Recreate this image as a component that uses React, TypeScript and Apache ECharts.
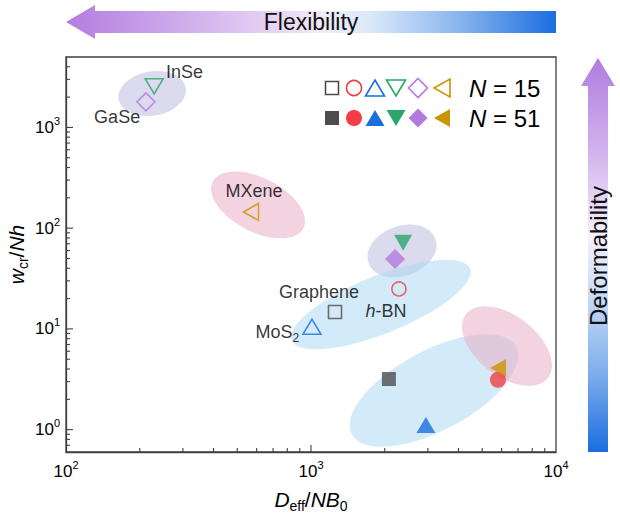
import React, { useEffect, useRef } from 'react';
import * as echarts from 'echarts';

// ---------- data ----------
const materials = ['Graphene', 'h-BN', 'MoS2', 'InSe', 'GaSe', 'MXene'];
const materialLabels = ['Graphene', '{i|h}-BN', 'MoS{sub|2}', 'InSe', 'GaSe', 'MXene'];
// N = 15 (hollow)
const n15X = [1253, 2285, 1009, 229, 212, 569];
const n15Y = [14.7, 24.9, 10.5, 2560, 1795, 145];
// N = 51 (filled)
const n51X = [2080, 5794, 2944, 2377, 2203, 5800];
const n51Y = [3.18, 3.12, 1.11, 71.5, 49.5, 4.1];
const legendTexts = ['15', '51'];

// shaded groups: ends of the major axis (data coords) + minor/major ratio
const ellipseStartX = [164, 397, 1718, 836, 1469, 4293];
const ellipseStartY = [1900, 289, 44.9, 7.67, 0.9, 14.06];
const ellipseEndX = [308, 931, 3220, 4457, 6870, 9270];
const ellipseEndY = [2480, 100, 78.5, 39.8, 6.64, 3.25];
const ellipseRatio = [0.65, 0.53, 0.7, 0.3, 0.43, 0.58];

const X_MIN = 100;
const X_MAX = 10000;
const Y_MIN = 0.6;
const Y_MAX = 5000;
const xMajorTicks = [100, 1000, 10000];
const yMajorTicks = [1, 10, 100, 1000];
const xMinorTicks: number[] = [];
[100, 1000].forEach((d) => { for (let k = 2; k <= 9; k++) xMinorTicks.push(k * d); });
const yMinorTicks: number[] = [0.7, 0.8, 0.9];
[1, 10, 100].forEach((d) => { for (let k = 2; k <= 9; k++) yMinorTicks.push(k * d); });
[2000, 3000, 4000].forEach((v) => yMinorTicks.push(v));

// ---------- styles ----------
const FONT = "'Liberation Sans', Arial, Helvetica, sans-serif";
const colors = ['#4d4d4d', '#f23e44', '#1a6fdc', '#2aa56b', '#b07ae0', '#cc9400'];
const ellipseColors = [
  'rgba(185,183,222,0.5)',
  'rgba(234,168,193,0.5)',
  'rgba(185,183,222,0.5)',
  'rgba(168,214,241,0.5)',
  'rgba(168,214,241,0.5)',
  'rgba(234,168,193,0.5)',
];
const symbolKinds = ['rect', 'circle', 'triangle', 'triangle', 'diamond', 'triangle'];
const symbolRot = [0, 0, 0, 180, 0, 90];
const hollowSizes: any[] = [13, 14, [18, 15], [18, 15], [18, 18], [17, 15]];
const filledSizes: any[] = [14, 16, [19, 16], [18, 16], [20, 20], [18, 16]];
const labelPos = ['top', 'bottom', 'left', 'right', 'left', 'top'];
const labelOffset = [[-16, 4], [-13, -3], [2, 5], [-3, -14], [9, 15], [3, 5]];
const AX = '#404040';
const MINOR_LEN = 4;
const MAJOR_LEN = 7;

const labelRich = {
  i: { fontStyle: 'italic', fontSize: 18, fontFamily: FONT, color: '#000', lineHeight: 24 },
  sub: { fontSize: 12, fontFamily: FONT, color: '#000', verticalAlign: 'bottom', lineHeight: 12 },
};

const tickRich = {
  b: { fontSize: 17, fontFamily: FONT, color: '#000', lineHeight: 24 },
  s: { fontSize: 11, fontFamily: FONT, color: '#000', verticalAlign: 'top', lineHeight: 12 },
};

const nameRich = {
  i: { fontStyle: 'italic', fontSize: 21, fontFamily: FONT, color: '#000', lineHeight: 28 },
  n: { fontSize: 21, fontFamily: FONT, color: '#000', lineHeight: 28 },
  sub: { fontSize: 14, fontFamily: FONT, color: '#000', verticalAlign: 'bottom', lineHeight: 14 },
};

const tickFormatter = (v: number) => `{b|10}{s|${Math.round(Math.log10(v))}}`;

function legendShape(kind: number, cx: number, cy: number, filled: boolean): any {
  const c = colors[kind];
  const style = filled ? { fill: c, stroke: 'none' } : { fill: 'none', stroke: c, lineWidth: 1.6 };
  switch (kind) {
    case 0: {
      const s = filled ? 14 : 13;
      return { type: 'rect', shape: { x: cx - s / 2, y: cy - s / 2, width: s, height: s }, style };
    }
    case 1:
      return { type: 'circle', shape: { cx, cy, r: filled ? 8 : 7.5 }, style };
    case 2:
      return { type: 'polygon', shape: { points: [[cx, cy - 8], [cx + 9.5, cy + 8], [cx - 9.5, cy + 8]] }, style };
    case 3:
      return { type: 'polygon', shape: { points: [[cx, cy + 8], [cx + 9.5, cy - 8], [cx - 9.5, cy - 8]] }, style };
    case 4:
      return { type: 'polygon', shape: { points: [[cx, cy - 9.5], [cx + 9.5, cy], [cx, cy + 9.5], [cx - 9.5, cy]] }, style };
    default:
      return { type: 'polygon', shape: { points: [[cx - 8, cy], [cx + 8, cy - 9], [cx + 8, cy + 9]] }, style };
  }
}

function tickSeries(values: number[], isX: boolean, len: number): any {
  return {
    type: 'custom',
    coordinateSystem: 'cartesian2d',
    silent: true,
    clip: false,
    z: 6,
    data: values.map((v) => (isX ? [v, Y_MIN] : [X_MIN, v])),
    encode: { x: 0, y: 1 },
    renderItem: (_p: any, api: any) => {
      const p = api.coord([api.value(0), api.value(1)]);
      return {
        type: 'line',
        shape: isX
          ? { x1: p[0], y1: p[1], x2: p[0], y2: p[1] - len }
          : { x1: p[0], y1: p[1], x2: p[0] + len, y2: p[1] },
        style: { stroke: AX, lineWidth: 1.1 },
      };
    },
  };
}

function buildOption(): any {
  const series: any[] = [];

  // ellipses
  series.push({
    type: 'custom',
    coordinateSystem: 'cartesian2d',
    silent: true,
    z: 1,
    data: ellipseStartX.map((_, i) => [ellipseStartX[i], ellipseStartY[i], ellipseEndX[i], ellipseEndY[i], ellipseRatio[i]]),
    encode: { x: [0, 2], y: [1, 3] },
    renderItem: (params: any, api: any) => {
      const p1 = api.coord([api.value(0), api.value(1)]);
      const p2 = api.coord([api.value(2), api.value(3)]);
      const dx = p2[0] - p1[0];
      const dy = p2[1] - p1[1];
      const rx = Math.hypot(dx, dy) / 2;
      const ry = rx * api.value(4);
      return {
        type: 'ellipse',
        x: (p1[0] + p2[0]) / 2,
        y: (p1[1] + p2[1]) / 2,
        rotation: -Math.atan2(dy, dx),
        shape: { cx: 0, cy: 0, rx, ry },
        style: { fill: ellipseColors[params.dataIndex] },
      };
    },
  });

  // axis ticks (drawn through the log scales)
  series.push(tickSeries(xMinorTicks, true, MINOR_LEN));
  series.push(tickSeries(yMinorTicks, false, MINOR_LEN));
  series.push(tickSeries(xMajorTicks.slice(1, -1), true, MAJOR_LEN));
  series.push(tickSeries(yMajorTicks, false, MAJOR_LEN));

  materials.forEach((m, i) => {
    series.push({
      name: m + ' N=15',
      type: 'scatter',
      z: 3,
      data: [[n15X[i], n15Y[i]]],
      symbol: symbolKinds[i],
      symbolSize: hollowSizes[i],
      symbolRotate: symbolRot[i],
      itemStyle: { color: 'rgba(0,0,0,0)', borderColor: colors[i], borderWidth: 1.6 },
      label: {
        show: true,
        formatter: materialLabels[i],
        position: labelPos[i],
        offset: labelOffset[i],
        fontSize: 18,
        fontFamily: FONT,
        color: '#000',
        lineHeight: 24,
        rich: labelRich,
      },
      emphasis: { disabled: true },
    });
    series.push({
      name: m + ' N=51',
      type: 'scatter',
      z: 4,
      data: [[n51X[i], n51Y[i]]],
      symbol: symbolKinds[i],
      symbolSize: filledSizes[i],
      symbolRotate: symbolRot[i],
      itemStyle: { color: colors[i], borderWidth: 0 },
      emphasis: { disabled: true },
    });
  });

  const legendOffsets = [0, 22, 43, 64, 86, 110];
  const graphics: any[] = [];
  [88, 118].forEach((cy, row) => {
    legendOffsets.forEach((dx, k) => graphics.push(legendShape(k, 332 + dx, cy, row === 1)));
    graphics.push({
      type: 'text',
      x: 469,
      y: cy,
      style: {
        text: `{i|N}{n| = ${legendTexts[row]}}`,
        verticalAlign: 'middle',
        rich: {
          i: { fontStyle: 'italic', fontSize: 24, fontFamily: FONT, fill: '#000' },
          n: { fontSize: 24, fontFamily: FONT, fill: '#000' },
        },
      },
    });
  });

  // Flexibility arrow
  graphics.push({
    type: 'polygon',
    shape: { points: [[66, 22], [95, 5], [95, 11], [556, 11], [556, 33], [95, 33], [95, 39]] },
    style: {
      fill: new echarts.graphic.LinearGradient(0, 0, 1, 0, [
        { offset: 0, color: '#b47de0' },
        { offset: 0.3, color: '#d6b9ee' },
        { offset: 0.52, color: '#f1eaf8' },
        { offset: 0.62, color: '#dbe9fa' },
        { offset: 0.8, color: '#8ab6ee' },
        { offset: 1, color: '#1a6de0' },
      ]),
    },
  });
  graphics.push({
    type: 'text',
    x: 311,
    y: 22,
    style: { text: 'Flexibility', fontSize: 23, fontFamily: FONT, fill: '#111', align: 'center', verticalAlign: 'middle' },
  });
  // Deformability arrow
  graphics.push({
    type: 'polygon',
    shape: { points: [[598, 58], [615, 86], [608, 86], [608, 452], [588, 452], [588, 86], [581, 86]] },
    style: {
      fill: new echarts.graphic.LinearGradient(0, 0, 0, 1, [
        { offset: 0, color: '#b27be0' },
        { offset: 0.25, color: '#d3b6ee' },
        { offset: 0.45, color: '#f6f1fb' },
        { offset: 0.6, color: '#c9dcf6' },
        { offset: 0.8, color: '#7eaeec' },
        { offset: 1, color: '#1a6de0' },
      ]),
    },
  });
  graphics.push({
    type: 'text',
    x: 598,
    y: 256,
    rotation: Math.PI / 2,
    style: { text: 'Deformability', fontSize: 24, fontFamily: FONT, fill: '#111', align: 'center', verticalAlign: 'middle' },
  });

  const axLine = { show: true, lineStyle: { color: AX, width: 1.3 } };

  return {
    animation: false,
    backgroundColor: '#fff',
    textStyle: { fontFamily: FONT },
    grid: {
      show: true,
      left: 66,
      right: 64,
      top: 57,
      bottom: 64,
      borderColor: AX,
      borderWidth: 1.3,
      backgroundColor: 'transparent',
      containLabel: false,
      outerBoundsMode: 'none',
    },
    xAxis: {
      type: 'log',
      logBase: 10,
      min: X_MIN,
      max: X_MAX,
      position: 'bottom',
      axisLine: axLine,
      axisTick: { show: false },
      axisLabel: { show: true, customValues: xMajorTicks, formatter: tickFormatter, rich: tickRich, margin: 7 },
      splitLine: { show: false },
      minorTick: { show: false },
      name: '{i|D}{sub|eff}{n|/}{i|NB}{sub|0}',
      nameLocation: 'middle',
      nameGap: 33,
      nameMoveOverlap: false,
      nameTextStyle: { rich: nameRich, fontSize: 21, fontFamily: FONT, color: '#000' },
    },
    yAxis: {
      type: 'log',
      logBase: 10,
      min: Y_MIN,
      max: Y_MAX,
      position: 'left',
      axisLine: axLine,
      axisTick: { show: false },
      axisLabel: { show: true, customValues: yMajorTicks, formatter: tickFormatter, rich: tickRich, margin: 6 },
      splitLine: { show: false },
      minorTick: { show: false },
      name: '{i|w}{sub|cr}{n|/}{i|Nh}',
      nameLocation: 'middle',
      nameGap: 36,
      nameMoveOverlap: false,
      nameTextStyle: { rich: nameRich, fontSize: 21, fontFamily: FONT, color: '#000' },
    },
    graphic: graphics,
    series,
  };
}

export default function App() {
  const ref = useRef<HTMLDivElement>(null);
  useEffect(() => {
    if (!ref.current) return;
    const chart = echarts.init(ref.current, null, { renderer: 'svg' });
    chart.setOption(buildOption());
    return () => chart.dispose();
  }, []);
  return <div ref={ref} style={{ position: 'absolute', left: 0, top: 0, width: 620, height: 516 }} />;
}
